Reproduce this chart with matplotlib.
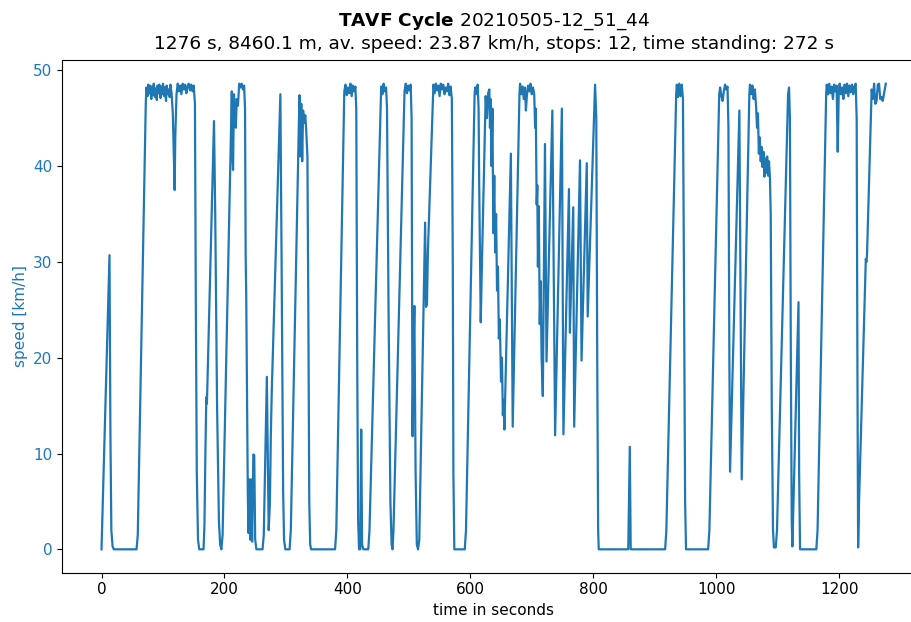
import matplotlib
matplotlib.use("Agg")
import matplotlib.pyplot as plt

time_s = [
    0, 13, 14.5, 16, 18, 20, 57, 59, 72, 73, 75, 76, 78, 79, 81, 82, 84, 85, 87, 88,
    90, 91, 93, 94, 96, 97, 99, 100, 102, 103, 105, 106, 108, 109, 111, 112, 114, 116, 118, 119,
    120, 122, 124, 126, 128, 130, 132, 134, 136, 138, 140, 142, 144, 146, 148, 150, 152, 153.5, 155, 157,
    159, 166, 167.5, 169, 170.5, 171.5, 183, 185, 188, 191, 193, 195, 197, 212, 213, 214, 215.5, 217, 218.5, 220,
    222, 224, 226, 228, 230, 232, 233.5, 234.5, 235.5, 238, 239, 240.5, 242, 243.5, 245, 247, 248.5, 250, 252, 262,
    264, 269, 272, 274, 275.5, 277, 291, 293, 295.5, 297, 299, 306, 308, 322, 323.5, 325, 326.5, 328, 330, 331.5,
    333, 335, 336.5, 338, 339.5, 341, 380, 382, 395, 397, 399, 401, 403, 405, 407, 409, 411, 413, 414.5, 416,
    417.5, 419, 421, 422.5, 424, 426, 434, 436, 455, 457, 459, 461, 463, 464.5, 467, 470, 472, 473.5, 475, 493,
    495, 497, 499, 501, 503, 504.5, 506, 507.5, 509, 511, 513, 515, 517, 526.5, 528, 529.5, 531, 540, 542, 544,
    546, 548, 550, 552, 554, 556, 558, 560, 562, 564, 566, 568, 570, 571.5, 572.5, 574, 591, 593, 607, 608,
    610, 612, 613.5, 614.5, 617, 619, 625, 627, 629, 631, 632, 633, 634.5, 636, 637.5, 639, 640.5, 642, 643.5, 645,
    646.5, 648, 650, 651.5, 653, 654, 655.5, 666, 669, 680, 681, 683, 685, 687, 689, 690.5, 692, 694, 696, 698,
    700, 702, 704, 705.5, 706.5, 708, 709, 710, 711.5, 713, 714.5, 716, 718, 721.5, 724, 733.5, 738, 749, 751.5, 760.5,
    762, 767.5, 769, 778.5, 781, 789.5, 791, 803, 805, 806.5, 808, 809, 857, 859.5, 861, 917, 919, 935, 936, 938,
    940, 942, 944, 946, 947.5, 949.5, 951, 987, 989, 1005, 1006.5, 1008.5, 1010.5, 1012.5, 1014.5, 1016.5, 1018.5, 1020, 1021.5, 1022.6,
    1037.8, 1041.6, 1054, 1055, 1057, 1059, 1061, 1063, 1065, 1066.5, 1068, 1069.5, 1071, 1072.5, 1074, 1075.5, 1077, 1078.5, 1080, 1081.5,
    1083, 1084.5, 1086, 1087.5, 1088.8, 1090.5, 1092.5, 1094, 1097, 1099, 1117, 1118.6, 1120, 1121.5, 1123, 1124, 1134, 1135, 1136.5, 1163,
    1165, 1179, 1180, 1182, 1184, 1186, 1188, 1190, 1192, 1194, 1196, 1197.8, 1199.5, 1201, 1203, 1205, 1207, 1209, 1211, 1213,
    1215, 1217, 1219, 1221, 1223, 1225, 1227, 1228.6, 1229.8, 1231, 1232.5, 1243.5, 1244.5, 1245.5, 1253, 1255, 1257, 1259, 1261, 1263,
    1265, 1267, 1269, 1271, 1273, 1276,
]

speed_kmh = [
    0, 30.7, 12, 2, 0.3, 0, 0, 1.5, 46.5, 48.2, 47.3, 48.5, 47.6, 48.4, 47.0, 48.3, 47.4, 48.6, 47.2, 48.1,
    46.9, 48.4, 47.6, 48.5, 47.1, 48.3, 47.5, 48.6, 47.3, 48.2, 46.8, 48.4, 47.5, 48.0, 47.2, 48.5, 47.6, 45.5, 40, 37.5,
    43, 47.5, 48.6, 47.8, 48.4, 47.5, 48.6, 48.0, 48.5, 47.6, 48.3, 48.6, 47.9, 48.5, 47.8, 48.4, 46.5, 25, 8, 1,
    0, 0, 2.6, 10, 15.9, 15.2, 44.7, 35, 15, 3, 0.5, 0, 1.5, 47.8, 41, 39.6, 47.5, 45.5, 44, 47,
    46.3, 48.6, 48.2, 48.6, 48.0, 48.4, 46, 30.8, 26.2, 6, 1.7, 7.3, 1.0, 7.3, 0.8, 9.9, 9.8, 1, 0, 0,
    1.5, 18.0, 2.0, 5, 12, 16.5, 47.5, 30, 6, 1, 0, 0, 2, 47.4, 41, 46.5, 40.5, 45.8, 44.5, 45.3,
    43.8, 41, 25, 5, 0.5, 0, 0, 2, 47.8, 48.5, 47.4, 48.2, 47.6, 48.6, 47.3, 48.4, 47.8, 48.3, 46, 20,
    3, 0, 0, 12.5, 0.5, 0, 0, 2, 48.3, 47.5, 48.6, 47.8, 48.2, 46, 25, 5, 0.5, 0, 2, 47.8,
    48.6, 47.6, 48.4, 47.9, 48.5, 45, 11.8, 20, 25.4, 8, 0.5, 0, 1, 34.1, 25.3, 25.6, 31, 48.5, 47.6, 48.6,
    47.9, 48.4, 47.3, 48.6, 48.0, 48.5, 47.5, 48.2, 47.8, 48.6, 47.4, 48.3, 47.0, 30, 8, 0, 0, 2, 47.5, 48.2,
    47.5, 48.5, 46, 38, 23.7, 30, 47.3, 45, 47.6, 48.0, 44, 47.0, 40, 46, 33, 39, 31, 35, 27, 29.5,
    22, 24, 17.5, 20, 14, 15.6, 12.5, 41.3, 12.8, 47.5, 48.6, 47.5, 48.3, 47.0, 48.2, 45.8, 47.3, 48.4, 47.8, 48.6,
    47.5, 48.2, 47.5, 44, 46, 36, 38, 29.5, 35.8, 23.5, 28, 20, 16, 42.3, 19.6, 45.8, 11.9, 46.0, 12.0, 37.6,
    22.6, 35.7, 12.8, 40.6, 19.7, 40.3, 24.3, 48.5, 45, 20, 2, 0, 0, 10.7, 0, 0, 2, 47.5, 48.5, 47.2,
    48.6, 47.3, 48.5, 47.0, 30, 5, 0, 0, 2, 47.5, 48.2, 47.3, 46.8, 47.8, 48.5, 48.0, 48.3, 44, 20, 8.1,
    45.8, 7.3, 47.5, 48.5, 47.5, 48.4, 47.0, 48.0, 46.2, 44, 45.5, 41.3, 43, 40.5, 42, 39.9, 41.5, 38.9, 40.8, 39.3,
    41, 39, 40.5, 38.8, 35, 15, 2, 0.2, 0.2, 2, 47.5, 48.2, 45, 20, 3, 0.3, 25.8, 8, 0, 0,
    2, 47.5, 48.5, 47.5, 48.6, 47.6, 48.3, 47.0, 48.5, 47.8, 48.4, 41.5, 47.8, 48.6, 47.5, 48.2, 47.0, 48.5, 47.6, 48.6,
    47.3, 48.4, 47.7, 48.5, 47.5, 48.3, 48.6, 45, 20, 0.2, 5, 30.3, 30.0, 30.8, 48.0, 47.0, 48.6, 46.5, 46.8, 48.5,
    48.6, 47.0, 47.2, 46.8, 47.5, 48.6,
]

title_text = r"$\bf{TAVF\ Cycle}$ 20210505-12_51_44" + "\n" + \
    "1276 s, 8460.1 m, av. speed: 23.87 km/h, stops: 12, time standing: 272 s"

color = "#1f77b4"
W, H = 912, 622
fig = plt.figure(figsize=(W / 100, H / 100), dpi=100)
left, right, top, bottom = 62.3, 925.0, 60.4, 572.6
ax = fig.add_axes([left / W, 1 - bottom / H, (right - left) / W, (bottom - top) / H])
ax.plot(time_s, speed_kmh, color=color, linewidth=1.6)
ax.set_ylabel("speed [km/h]", color=color, fontsize=11)
ax.tick_params(axis="y", labelcolor=color, labelsize=11)
ax.tick_params(axis="x", labelsize=11)
ax.set_xlabel("time in seconds", fontsize=11)
ax.set_title(title_text, fontsize=13.3, pad=8)
ax.set_xlim(-63.8, 1339.8)
ax.set_ylim(-2.43, 51.03)
ax.spines["right"].set_visible(False)
fig.savefig("out.png", dpi=100)
